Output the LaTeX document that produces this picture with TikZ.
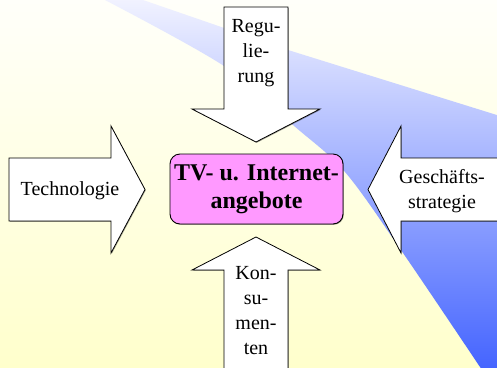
\documentclass[tikz,border=0pt]{standalone}
\usepackage{fontspec}
\setmainfont{Liberation Serif}
\usetikzlibrary{shadows}
\definecolor{bgtop}{RGB}{255,255,250}
\definecolor{bgbot}{RGB}{255,255,204}
\definecolor{bltop}{RGB}{242,243,255}
\definecolor{blmid}{RGB}{172,183,255}
\definecolor{blbot}{RGB}{68,100,255}
\definecolor{boxpink}{RGB}{255,153,255}
\tikzset{
  bigarrow/.style={draw=black, line width=0.8pt, fill=white, line join=miter,
    drop shadow={shadow xshift=0.8pt, shadow yshift=-0.8pt, fill=black, opacity=0.35}},
  arrowtext/.style={font=\fontsize{20}{25}\selectfont, align=center, inner sep=0pt},
  centerbox/.style={draw=black, line width=0.9pt, fill=boxpink, rounded corners=10pt,
    minimum width=173pt, minimum height=70pt, inner sep=0pt,
    font=\bfseries\fontsize{24}{28}\selectfont, align=center,
    drop shadow={shadow xshift=0.8pt, shadow yshift=-0.8pt, fill=black, opacity=0.35}}
}
\begin{document}
\begin{tikzpicture}[x=1pt,y=-1pt]
\useasboundingbox (0,0) rectangle (497,367);
\clip (0,0) rectangle (497,367);
% background
\shade[top color=bgtop, bottom color=bgbot] (0,0) rectangle (497,367);
% blue wedge
\shade[top color=bltop, middle color=blmid, bottom color=blbot]
  (143,-3) -- (143,0) -- (288,50) -- (500,116) -- (500,370) -- (482,370)
  -- plot[smooth, tension=0.55] coordinates {(480,367) (403,253) (345,172) (293,125) (224,66) (105,0)}
  -- (105,-3) -- cycle;
% arrows
\draw[bigarrow] (224,7) -- (288,7) -- (288,109) -- (320,109) -- (256,142) -- (192,109) -- (224,109) -- cycle;
\draw[bigarrow] (9,158) -- (111,158) -- (111,126) -- (145,189.5) -- (111,253) -- (111,221) -- (9,221) -- cycle;
\draw[bigarrow] (505,158) -- (401,158) -- (401,126) -- (368,189.5) -- (401,253) -- (401,221) -- (505,221) -- cycle;
\draw[bigarrow] (224,375) -- (224,270) -- (192,270) -- (256,237) -- (320,270) -- (288,270) -- (288,375) -- cycle;
% texts
\node[arrowtext] (reg) at (256,53) {Regu-\\lie-\\rung};
\node[arrowtext] (tech) at (70,191) {Technologie};
\node[arrowtext] (gesch) at (442,191) {Geschäfts-\\strategie};
\node[arrowtext] (kons) at (256,311) {Kon-\\su-\\men-\\ten};
\node[centerbox] (tv) at (256.5,189) {TV- u. Internet-\\angebote};
\end{tikzpicture}
\end{document}
